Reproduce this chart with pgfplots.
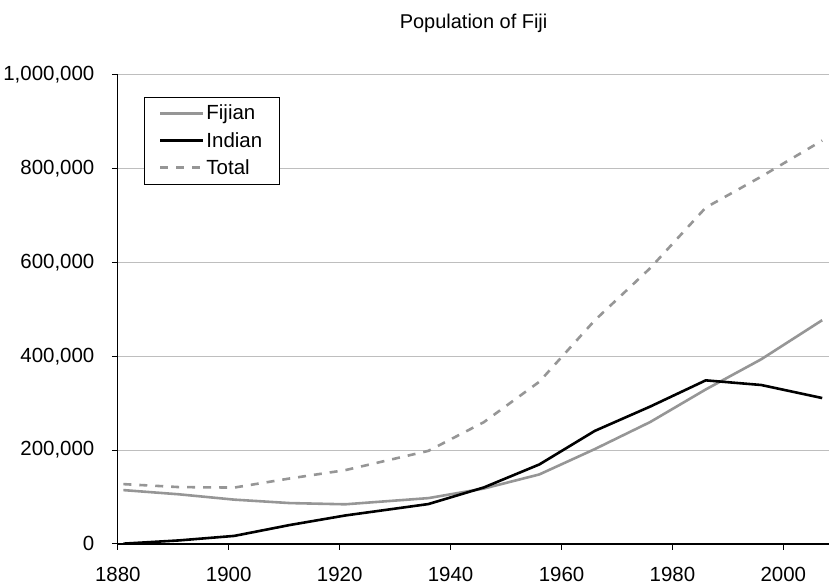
\documentclass[border=0pt]{standalone}
\usepackage{fontspec}
\setmainfont{Liberation Sans}
\usepackage{pgfplots}
\pgfplotsset{compat=1.18}
\definecolor{linegray}{RGB}{150,150,150}
\definecolor{gridgray}{RGB}{190,190,190}
\begin{document}
\begin{tikzpicture}
\begin{axis}[
  at={(0,0)}, anchor=south west,
  scale only axis, width=713bp, height=470bp,
  xmin=1880, xmax=2008.3, ymin=0, ymax=1000000,
  axis x line=bottom, axis y line=left,
  axis line style={black, line width=1.2bp, -},
  xtick={1880,1900,...,2000},
  ytick={0,200000,...,1000000},
  scaled y ticks=false,
  tick align=outside, major tick length=6bp,
  tick style={black, line width=1bp},
  ymajorgrids, major grid style={gridgray, line width=1.2bp},
  /pgf/number format/assume math mode=true,
  xticklabel style={/pgf/number format/1000 sep={}, yshift=-14bp},
  yticklabel style={xshift=-14bp, /pgf/number format/fixed, /pgf/number format/1000 sep={,}},
  ticklabel style={font=\fontsize{20.5bp}{22bp}\selectfont},
  title={Population of Fiji},
  title style={font=\fontsize{20bp}{22bp}\selectfont, at={(axis description cs:0.5,1)}, anchor=center, yshift=46bp},
  legend style={at={(axis description cs:0.0365,0.953)}, anchor=north west,
    draw=black, font=\fontsize{20.5bp}{22bp}\selectfont,
    inner xsep=15bp, inner ysep=6bp, row sep=7bp, cells={anchor=west}},
  legend image code/.code={\draw[line width=2.6bp, #1] (0bp,0bp) -- (43bp,0bp);},
]
\addplot[linegray, line width=2.6bp] coordinates {(1881,114748)(1891,105800)(1901,94397)(1911,87096)(1921,84475)(1936,97651)(1946,118070)(1956,148134)(1966,202176)(1976,259932)(1986,329305)(1996,393575)(2007,477000)};
\addlegendentry{Fijian}
\addplot[black, line width=2.6bp] coordinates {(1881,588)(1891,7468)(1901,17105)(1911,40286)(1921,60634)(1936,85002)(1946,120414)(1956,169403)(1966,240960)(1976,292896)(1986,348704)(1996,338818)(2007,311000)};
\addlegendentry{Indian}
\addplot[linegray, line width=2.6bp, dash pattern=on 8bp off 8bp] coordinates {(1881,127486)(1891,121180)(1901,120124)(1911,139541)(1921,157266)(1936,198379)(1946,259638)(1956,345737)(1966,476727)(1976,588068)(1986,717000)(1996,783000)(2007,860000)};
\addlegendentry{Total}
\end{axis}
\path[use as bounding box] (-117bp,-43bp) rectangle (713bp,545bp);
\end{tikzpicture}
\end{document}
